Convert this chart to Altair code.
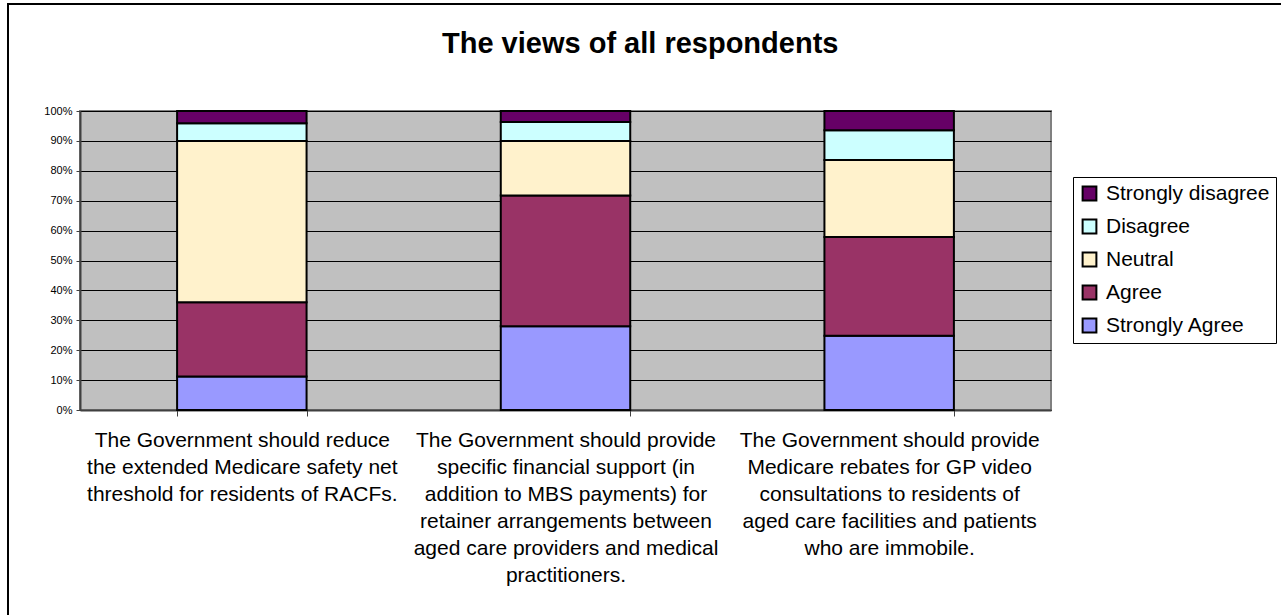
import altair as alt
import pandas as pd

# --- data ---
questions = [
    "The Government should reduce\nthe extended Medicare safety net\nthreshold for residents of RACFs.",
    "The Government should provide\nspecific financial support (in\naddition to MBS payments) for\nretainer arrangements between\naged care providers and medical\npractitioners.",
    "The Government should provide\nMedicare rebates for GP video\nconsultations to residents of\naged care facilities and patients\nwho are immobile.",
]
responses = ["Strongly Agree", "Agree", "Neutral", "Disagree", "Strongly disagree"]
strongly_agree = [11.2, 28.0, 24.8]
agree = [24.8, 43.7, 33.1]
neutral = [54.0, 18.3, 25.7]
disagree = [5.9, 6.3, 10.0]
strongly_disagree = [4.1, 3.7, 6.4]
colors = ["#9999FF", "#993366", "#FFF2CC", "#CCFFFF", "#660066"]

series = [strongly_agree, agree, neutral, disagree, strongly_disagree]
rows = []
for qi, q in enumerate(questions):
    for ri, r in enumerate(responses):
        rows.append({"question": q, "response": r, "rank": ri, "value": series[ri][qi]})
df = pd.DataFrame(rows)

FONT = "Liberation Sans"
legend_order = list(reversed(responses))
legend_colors = list(reversed(colors))

bars = alt.Chart(df).mark_bar(stroke="black", strokeWidth=2).encode(
    x=alt.X(
        "question:N",
        sort=questions,
        title=None,
        scale=alt.Scale(paddingInner=0.6, paddingOuter=0.3),
        axis=alt.Axis(
            labelExpr="split(datum.label, '\\n')",
            labelAngle=0,
            labelFontSize=21,
            labelLineHeight=27,
            labelBaseline="top",
            labelPadding=13,
            labelLimit=0,
            labelColor="black",
            labelFont=FONT,
            tickBand="extent",
            tickSize=6,
            tickColor="#404040",
            domainColor="#404040",
            domainWidth=2,
            grid=False,
        ),
    ),
    y=alt.Y(
        "value:Q",
        stack="normalize",
        title=None,
        scale=alt.Scale(domain=[0, 1], nice=False),
        axis=alt.Axis(
            format=".0%",
            values=[i / 10 for i in range(11)],
            labelFontSize=11,
            labelFont=FONT,
            labelColor="black",
            labelPadding=4,
            tickSize=4,
            tickColor="#404040",
            domainColor="#404040",
            domainWidth=2,
            grid=True,
            gridColor="black",
            gridWidth=1,
        ),
    ),
    color=alt.Color(
        "response:N",
        scale=alt.Scale(domain=legend_order, range=legend_colors),
        legend=alt.Legend(
            title=None,
            orient="none",
            legendX=993,
            legendY=66,
            symbolType="square",
            symbolSize=190,
            symbolStrokeColor="black",
            symbolStrokeWidth=2,
            symbolOpacity=1,
            labelFontSize=21,
            labelFont=FONT,
            labelColor="black",
            labelOffset=6,
            rowPadding=10,
            strokeColor="black",
            padding=6,
            labelLimit=0,
        ),
    ),
    order=alt.Order("rank:Q", sort="ascending"),
)

border = alt.Chart(alt.Data(values=[{}])).mark_rect(
    fill="white", fillOpacity=0, stroke="black", strokeWidth=2
).encode(
    x=alt.value(-72), x2=alt.value(1260), y=alt.value(-107), y2=alt.value(560)
)

chart = alt.layer(border, bars).properties(
    width=971,
    height=299,
    autosize=alt.AutoSizeParams(type="none"),
    padding={"left": 80, "top": 111, "right": 230, "bottom": 205},
    background="white",
    title=alt.TitleParams(
        "The views of all respondents",
        anchor="start",
        frame="group",
        dx=362,
        dy=79,
        fontSize=29,
        font=FONT,
        fontWeight="bold",
        color="black",
        baseline="alphabetic",
        offset=0,
    ),
).configure_view(
    fill="#C0C0C0", stroke="#808080", strokeWidth=2
)

chart.save("out.html", embed_options={"renderer": "svg", "actions": False})
